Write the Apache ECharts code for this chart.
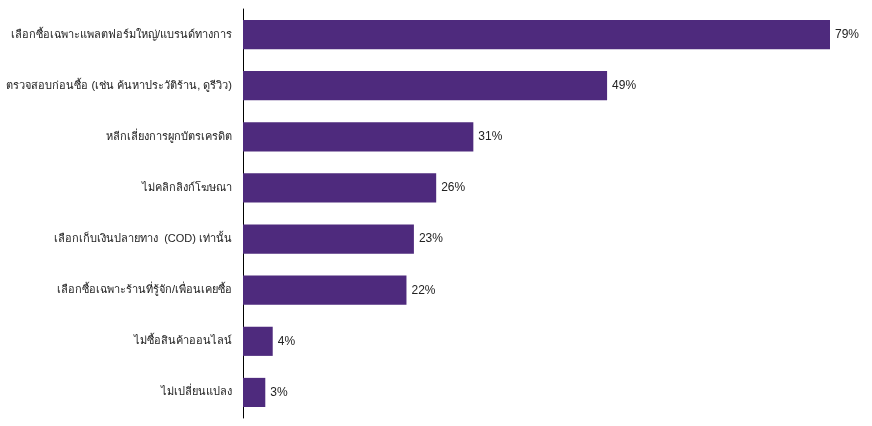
<!DOCTYPE html>
<html lang="th">
<head>
    <meta charset="utf-8">
    <title>chart</title>
    <script src="https://cdn.jsdelivr.net/npm/echarts@6/dist/echarts.min.js"></script>
    <style type="text/css">
        html, body {
            margin: 0;
            padding: 0;
            background: #ffffff;
        }

        #main {
            width: 872px;
            height: 426px;
        }
    </style>
</head>
<body>
<div id="main"></div>
<script type="text/javascript">
    // categories top to bottom
    let categories = [
        "เลือกซื้อเฉพาะแพลตฟอร์มใหญ่/แบรนด์ทางการ",
        "ตรวจสอบก่อนซื้อ (เช่น ค้นหาประวัติร้าน, ดูรีวิว)",
        "หลีกเลี่ยงการผูกบัตรเครดิต",
        "ไม่คลิกลิงก์โฆษณา",
        "เลือกเก็บเงินปลายทาง  (COD) เท่านั้น",
        "เลือกซื้อเฉพาะร้านที่รู้จัก/เพื่อนเคยซื้อ",
        "ไม่ซื้อสินค้าออนไลน์",
        "ไม่เปลี่ยนแปลง"
    ];
    let values = [79, 49, 31, 26, 23, 22, 4, 3];

    let myChart = echarts.init(document.getElementById("main"));
    myChart.setOption({
        animation: false,
        grid: {
            left: 243,
            right: 42,
            top: 9,
            bottom: 8,
            containLabel: false,
            outerBoundsMode: "none"
        },
        xAxis: {
            type: "value",
            min: 0,
            max: 79,
            show: false
        },
        yAxis: {
            type: "category",
            inverse: true,
            data: categories,
            axisLine: {show: true, lineStyle: {color: "#000000", width: 1}},
            axisTick: {show: false},
            axisLabel: {
                margin: 11,
                color: "#222222",
                fontSize: 11,
                fontFamily: "Liberation Sans, Arial, sans-serif"
            }
        },
        series: [{
            type: "bar",
            data: values,
            barCategoryGap: "43%",
            itemStyle: {color: "#4E2A7D"},
            label: {
                show: true,
                position: "right",
                distance: 5,
                formatter: "{c}%",
                color: "#222222",
                fontSize: 12,
                fontFamily: "Liberation Sans, Arial, sans-serif"
            }
        }]
    });
</script>
</body>
</html>
